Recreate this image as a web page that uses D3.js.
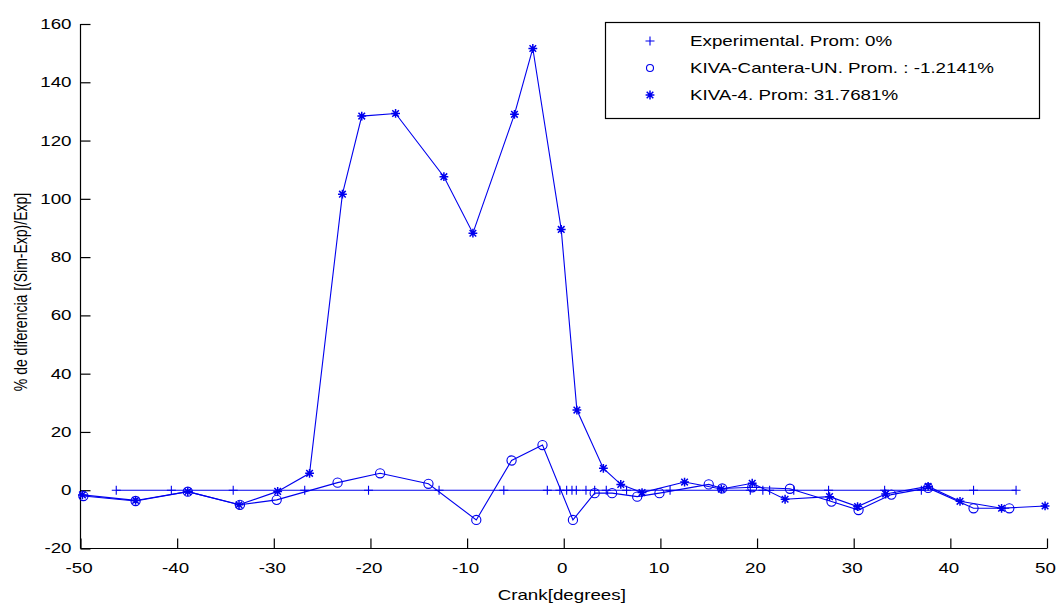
<!DOCTYPE html>
<html><head><meta charset="utf-8">
<script src="https://cdn.jsdelivr.net/npm/d3@7"></script>
<style>body{margin:0;background:#fff}svg{display:block}</style>
</head><body>
<svg id="c" width="1057" height="605"></svg>
<script>
const xTicks = [-50,-40,-30,-20,-10,0,10,20,30,40,50];
const yTicks = [-20,0,20,40,60,80,100,120,140,160];

const expX = [-46.3,-40.6,-34.2,-26.8,-20.2,-12.9,-6.2,-1.7,-0.4,0.3,0.85,1.3,2.3,3.2,4.4,6.5,11.0,19.3,20.6,21.3,23.8,27.4,33.2,37.0,42.4,46.8];
const expY = expX.map(() => 0);

const canteraX = [-49.7,-44.3,-38.9,-33.5,-29.7,-23.4,-19.0,-14.0,-9.05,-5.4,-2.2,0.95,3.2,5.0,7.6,9.9,15.0,16.4,19.5,23.4,27.7,30.5,33.9,37.7,42.4,46.1];
const canteraY = [-2.0,-3.7,-0.5,-5.0,-3.3,2.6,5.8,2.2,-10.2,10.2,15.5,-10.2,-1.0,-1.0,-2.2,-1.0,2.0,0.6,1.0,0.5,-3.9,-6.8,-1.5,0.8,-6.2,-6.2];

const kiva4X = [-49.8,-44.3,-38.9,-33.6,-29.6,-26.3,-22.9,-20.9,-17.4,-12.4,-9.4,-5.1,-3.2,-0.26,1.36,4.1,5.9,8.1,12.5,16.3,19.5,22.9,27.5,30.4,33.3,37.7,41.0,45.3,49.8];
const kiva4Y = [-1.6,-3.5,-0.5,-5.0,-0.4,5.8,101.6,128.4,129.3,107.6,88.2,129.0,151.6,89.5,27.5,7.5,2.0,-0.8,2.8,0.4,2.4,-3.1,-2.2,-5.6,-1.3,1.3,-3.8,-6.2,-5.4];

const legendLabels = ["Experimental. Prom: 0%","KIVA-Cantera-UN. Prom. : -1.2141%","KIVA-4. Prom: 31.7681%"];

const svg = d3.select("#c");
const L = 80.5, R = 1047, T = 24, B = 548.5;
const x = d3.scaleLinear().domain([-50,50]).range([L,R]);
const y = d3.scaleLinear().domain([-20,160]).range([B,T]);
const col = "#0000ee";
const font = "Liberation Sans, Arial, sans-serif";
const FS = 14, SX = 1.34;
const fmt = d => String(d);

// axes
const xa = svg.append("g").attr("transform",`translate(0,${B})`)
  .call(d3.axisBottom(x).tickValues(xTicks).tickSize(-10).tickPadding(14).tickFormat(fmt));
const ya = svg.append("g").attr("transform",`translate(${L},0)`)
  .call(d3.axisLeft(y).tickValues(yTicks).tickSize(-10).tickPadding(9).tickFormat(fmt));
[xa,ya].forEach(a=>{
  a.select(".domain").attr("stroke","#000").attr("stroke-width",1.2);
  a.selectAll(".tick line").attr("stroke","#000").attr("stroke-width",1.2);
  a.selectAll(".tick text").attr("fill","#000").attr("font-size",FS).attr("font-family",font);
});
xa.select(".domain").attr("d",`M${L},0H${R}`);
ya.select(".domain").attr("d",`M0,${B}V${T}`);
xa.selectAll(".tick text").attr("dy",null).attr("y",0)
  .attr("transform",`translate(-2,24) scale(${SX},1)`);
ya.selectAll(".tick text").attr("x",0)
  .attr("transform",`translate(-9,0) scale(${SX},1)`);

svg.append("text").attr("transform",`translate(${(L+R)/2-2},600) scale(${SX},1)`).attr("text-anchor","middle")
  .attr("font-size",FS).attr("font-family",font).text("Crank[degrees]");
svg.append("text").attr("transform",`translate(27,292) scale(${SX},1) rotate(-90)`).attr("text-anchor","middle")
  .attr("font-size",FS).attr("font-family",font).text("% de diferencia [(Sim-Exp)/Exp]");

const line = d3.line().x(d=>x(d[0])).y(d=>y(d[1]));
function series(xs, ys, marker){
  const pts = xs.map((v,i)=>[v,ys[i]]);
  svg.append("path").datum(pts).attr("d",line).attr("fill","none").attr("stroke",col).attr("stroke-width",1.1);
  const g = svg.append("g").attr("stroke",col).attr("fill","none").attr("stroke-width",1.1);
  pts.forEach(p=>drawMarker(g, x(p[0]), y(p[1]), marker));
}
function drawMarker(g, cx, cy, m){
  if(m==="plus"){
    g.append("path").attr("d",`M${cx-4.5},${cy}H${cx+4.5}M${cx},${cy-4.5}V${cy+4.5}`);
  } else if(m==="circle"){
    g.append("circle").attr("cx",cx).attr("cy",cy).attr("r",4.6);
  } else {
    const r=4.4, d=3.3;
    g.append("path").attr("stroke-width",1.5)
      .attr("d",`M${cx-r},${cy}H${cx+r}M${cx},${cy-r}V${cy+r}M${cx-d},${cy-d}L${cx+d},${cy+d}M${cx-d},${cy+d}L${cx+d},${cy-d}`);
  }
}
series(expX, expY, "plus");
series(canteraX, canteraY, "circle");
series(kiva4X, kiva4Y, "star");

// legend
const lg = svg.append("g");
lg.append("rect").attr("x",605.5).attr("y",22.5).attr("width",434).attr("height",96)
  .attr("fill","#fff").attr("stroke","#000").attr("stroke-width",1.2);
const markers = ["plus","circle","star"];
const rowsY = [41,68,95];
legendLabels.forEach((t,i)=>{
  const g = lg.append("g").attr("stroke",col).attr("fill","none").attr("stroke-width",1.1);
  if(markers[i]==="circle") g.append("circle").attr("cx",650).attr("cy",rowsY[i]).attr("r",3.5);
  else drawMarker(g,650,rowsY[i],markers[i]);
  lg.append("text").attr("transform",`translate(690,${rowsY[i]+5}) scale(${SX},1)`)
    .attr("font-size",FS).attr("font-family",font).attr("fill","#000").text(t);
});
</script>
</body></html>
